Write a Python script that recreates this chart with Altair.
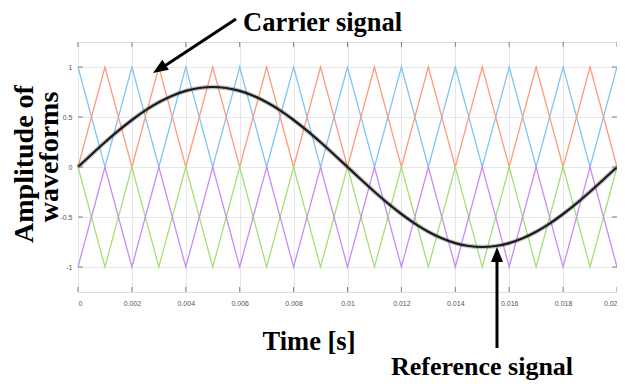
import altair as alt
import pandas as pd

# ---- data ----
carrier_time = [0.000, 0.001, 0.002, 0.003, 0.004, 0.005, 0.006, 0.007, 0.008, 0.009, 0.010,
                0.011, 0.012, 0.013, 0.014, 0.015, 0.016, 0.017, 0.018, 0.019, 0.020]
carrier_blue = [1, 0, 1, 0, 1, 0, 1, 0, 1, 0, 1, 0, 1, 0, 1, 0, 1, 0, 1, 0, 1]
carrier_orange = [0, 1, 0, 1, 0, 1, 0, 1, 0, 1, 0, 1, 0, 1, 0, 1, 0, 1, 0, 1, 0]
carrier_green = [0, -1, 0, -1, 0, -1, 0, -1, 0, -1, 0, -1, 0, -1, 0, -1, 0, -1, 0, -1, 0]
carrier_purple = [-1, 0, -1, 0, -1, 0, -1, 0, -1, 0, -1, 0, -1, 0, -1, 0, -1, 0, -1, 0, -1]

ref_time = [0.0000, 0.0005, 0.0010, 0.0015, 0.0020, 0.0025, 0.0030, 0.0035, 0.0040, 0.0045,
            0.0050, 0.0055, 0.0060, 0.0065, 0.0070, 0.0075, 0.0080, 0.0085, 0.0090, 0.0095,
            0.0100, 0.0105, 0.0110, 0.0115, 0.0120, 0.0125, 0.0130, 0.0135, 0.0140, 0.0145,
            0.0150, 0.0155, 0.0160, 0.0165, 0.0170, 0.0175, 0.0180, 0.0185, 0.0190, 0.0195,
            0.0200]
ref_value = [0.000, 0.125, 0.247, 0.363, 0.470, 0.566, 0.647, 0.713, 0.761, 0.790,
             0.800, 0.790, 0.761, 0.713, 0.647, 0.566, 0.470, 0.363, 0.247, 0.125,
             0.000, -0.125, -0.247, -0.363, -0.470, -0.566, -0.647, -0.713, -0.761, -0.790,
             -0.800, -0.790, -0.761, -0.713, -0.647, -0.566, -0.470, -0.363, -0.247, -0.125,
             0.000]

x_ticks = [0, 0.002, 0.004, 0.006, 0.008, 0.01, 0.012, 0.014, 0.016, 0.018, 0.02]
y_ticks = [-1, -0.5, 0, 0.5, 1]

series_names = ["blue", "orange", "green", "purple"]
series_colors = ["#80c6f5", "#ff9a7e", "#a6df78", "#c98cf7"]

# ---- tables ----
rows = []
for name, vals in zip(series_names, [carrier_blue, carrier_orange, carrier_green, carrier_purple]):
    for t, v in zip(carrier_time, vals):
        rows.append({"t": t, "v": v, "s": name})
carrier_df = pd.DataFrame(rows)
ref_df = pd.DataFrame({"t": ref_time, "v": ref_value})
xt_df = pd.DataFrame({"t": x_ticks})
yt_df = pd.DataFrame({"v": y_ticks})
one = pd.DataFrame({"a": [0]})

W, H = 539, 250
xscale = alt.Scale(domain=[0, 0.02], nice=False, zero=False)
yscale = alt.Scale(domain=[-1.25, 1.25], nice=False, zero=False)

xaxis = alt.Axis(values=x_ticks, format="~g", labelFontSize=7, labelColor="#555555",
                 labelFont="Liberation Sans", tickSize=0, domain=False, grid=True,
                 gridColor="#e6e6e6", labelPadding=7, title=None)
yaxis = alt.Axis(values=y_ticks, format="~g", labelFontSize=7, labelColor="#555555",
                 labelFont="Liberation Sans", tickSize=0, domain=False, grid=True,
                 gridColor="#e6e6e6", labelPadding=6, title=None,
                 labelExpr="replace(format(datum.value, '~g'), '\u2212', '-')")

carriers = alt.Chart(carrier_df).mark_line(strokeWidth=1.3).encode(
    x=alt.X("t:Q", scale=xscale, axis=xaxis),
    y=alt.Y("v:Q", scale=yscale, axis=yaxis),
    color=alt.Color("s:N", scale=alt.Scale(domain=series_names, range=series_colors), legend=None),
    detail="s:N",
)

ref_halo = alt.Chart(ref_df).mark_line(strokeWidth=4.5, color="#555555", opacity=0.35,
                                       interpolate="monotone").encode(
    x="t:Q", y="v:Q")
ref_line = alt.Chart(ref_df).mark_line(strokeWidth=2.2, color="#1a1a1a",
                                       interpolate="monotone").encode(
    x="t:Q", y="v:Q")

# inward ticks on all four sides
tick_col = "#808080"
xt_bottom = alt.Chart(xt_df).mark_rule(color=tick_col, strokeWidth=1).encode(
    x="t:Q", y=alt.value(H), y2=alt.value(H - 5))
xt_top = alt.Chart(xt_df).mark_rule(color=tick_col, strokeWidth=1).encode(
    x="t:Q", y=alt.value(0), y2=alt.value(5))
yt_left = alt.Chart(yt_df).mark_rule(color=tick_col, strokeWidth=1).encode(
    y="v:Q", x=alt.value(0), x2=alt.value(5))
yt_right = alt.Chart(yt_df).mark_rule(color=tick_col, strokeWidth=1).encode(
    y="v:Q", x=alt.value(W), x2=alt.value(W - 5))

# annotations
font = "Liberation Serif"
fs = 26.5
carrier_txt = alt.Chart(one).mark_text(text="Carrier signal", font=font, fontSize=fs,
                                       fontWeight="bold", align="left", baseline="alphabetic",
                                       color="black").encode(x=alt.value(165), y=alt.value(-11))
time_txt = alt.Chart(one).mark_text(text="Time [s]", font=font, fontSize=fs,
                                    fontWeight="bold", align="center", baseline="alphabetic",
                                    color="black").encode(x=alt.value(231), y=alt.value(308))
ref_txt = alt.Chart(one).mark_text(text="Reference signal", font=font, fontSize=26,
                                   fontWeight="bold", align="center", baseline="alphabetic",
                                   color="black").encode(x=alt.value(404), y=alt.value(333))
ytitle1 = alt.Chart(one).mark_text(text="Amplitude of", font=font, fontSize=28,
                                   fontWeight="bold", align="center", baseline="middle",
                                   angle=270, color="black").encode(x=alt.value(-53), y=alt.value(122))
ytitle2 = alt.Chart(one).mark_text(text="waveforms", font=font, fontSize=28,
                                   fontWeight="bold", align="center", baseline="middle",
                                   angle=270, color="black").encode(x=alt.value(-28), y=alt.value(115))

# arrows
head_shape = "M0,-1L0.8,1L-0.8,1Z"
carrier_shaft = alt.Chart(one).mark_rule(color="black", strokeWidth=3).encode(
    x=alt.value(158), y=alt.value(-23), x2=alt.value(82), y2=alt.value(27))
carrier_head = alt.Chart(one).mark_point(shape=head_shape, size=225, filled=True, opacity=1,
                                         color="black", angle=237).encode(
    x=alt.value(81.3), y=alt.value(26.9))
ref_shaft = alt.Chart(one).mark_rule(color="black", strokeWidth=3).encode(
    x=alt.value(419), y=alt.value(306), x2=alt.value(419), y2=alt.value(212))
ref_head = alt.Chart(one).mark_point(shape=head_shape, size=225, filled=True, opacity=1,
                                     color="black", angle=0).encode(
    x=alt.value(419), y=alt.value(212.5))

chart = alt.layer(
    carriers, ref_halo, ref_line, xt_bottom, xt_top, yt_left, yt_right,
    carrier_txt, time_txt, ref_txt, ytitle1, ytitle2,
    carrier_shaft, carrier_head, ref_shaft, ref_head,
).properties(
    width=W, height=H, autosize="none",
    padding={"left": 70, "top": 34, "right": 0, "bottom": 90},
).configure_view(
    stroke="#9a9a9a", strokeWidth=1,
).configure(background="white")

chart.save("out.html", embed_options={"renderer": "svg", "actions": False})
